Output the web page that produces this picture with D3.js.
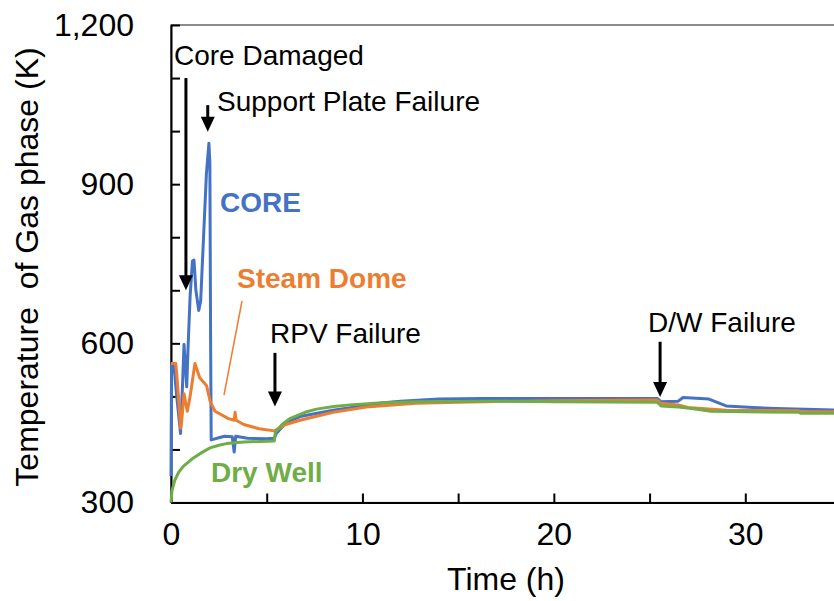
<!DOCTYPE html>
<html>
<head>
<meta charset="utf-8">
<script src="https://cdn.jsdelivr.net/npm/d3@7"></script>
<style>
  html, body { margin: 0; padding: 0; background: #fff; }
  svg { display: block; font-family: "Liberation Sans", Arial, sans-serif; }
</style>
</head>
<body>
<svg id="chart" width="834" height="601"></svg>
<script>
// Gas-phase temperature histories, [time (h), temperature (K)]
const coreSeries = [
  [0, 350], [0.03, 560], [0.15, 560], [0.3, 500], [0.5, 430], [0.6, 520], [0.68, 598],
  [0.75, 560], [0.82, 518], [0.9, 600], [1.0, 690], [1.12, 755], [1.2, 757], [1.3, 700],
  [1.45, 662], [1.55, 680], [1.7, 800], [1.85, 920], [1.98, 977], [2.03, 940], [2.07, 600],
  [2.1, 418], [2.5, 422], [2.8, 425], [3.2, 424], [3.3, 395], [3.38, 425], [4.0, 421],
  [5.0, 420], [5.4, 421], [5.5, 430], [6.0, 450], [6.74, 462], [8.47, 474], [10, 482],
  [11.1, 488], [12, 491], [14, 495], [16.3, 496], [20, 496], [25.4, 496], [25.6, 490],
  [26.5, 491], [26.75, 498], [28.1, 495], [29.0, 482], [30.4, 479], [31.6, 477], [34.8, 474]
];
const steamDomeSeries = [
  [0, 562], [0.25, 562], [0.35, 520], [0.5, 440], [0.55, 450], [0.68, 505], [0.85, 472],
  [1.0, 500], [1.25, 562], [1.5, 535], [1.86, 520], [2.05, 490], [2.3, 472], [3.0, 458],
  [3.3, 455], [3.35, 470], [3.4, 455], [3.8, 447], [4.6, 439], [5.4, 435], [5.5, 437],
  [6.0, 447], [6.74, 455], [8.47, 470], [10.2, 480], [12.8, 487], [15, 489], [20, 492],
  [25.4, 493], [25.6, 487], [26.5, 484], [27, 479], [29, 474], [32.8, 473], [32.9, 471],
  [34.8, 471]
];
const dryWellSeries = [
  [0, 300], [0.05, 322], [0.2, 342], [0.4, 357], [0.64, 368], [1.17, 384], [1.6, 394],
  [2.04, 403], [2.5, 408], [2.9, 411], [3.8, 414], [5.4, 416], [5.45, 433], [5.8, 447],
  [6.2, 458], [7.0, 470], [7.6, 476], [8.5, 481], [9.35, 484], [11, 488], [12.8, 490],
  [16.3, 491], [20, 490], [25.4, 489], [25.6, 482], [26.5, 480], [27.2, 477], [28.2, 472],
  [30, 471], [32.8, 470], [32.9, 468], [34.8, 468]
];

// Axis ticks
const yTicks = [300, 400, 500, 600, 700, 800, 900, 1000, 1100, 1200];
const yLabelled = [300, 600, 900, 1200];
const xTicks = [0, 5, 10, 15, 20, 25, 30, 35];
const xLabelled = [0, 10, 20, 30];

// Event times (h) and the temperature span of each arrow (K)
const eventNames = ["Core Damaged", "Support Plate Failure", "RPV Failure", "D/W Failure"];
const eventTimes = [0.78, 1.92, 5.43, 25.55];
const eventFrom  = [1100, 1049, 582, 603];
const eventTo    = [700, 999, 481, 499];

const colors = { core: "#4472C4", steam: "#ED7D31", dry: "#70AD47" };

const svg = d3.select("#chart");
const x = d3.scaleLinear().domain([0, 35]).range([171, 841]);
const y = d3.scaleLinear().domain([300, 1200]).range([502.5, 25]);

// Plot-area frame
svg.append("rect")
  .attr("x", x(0)).attr("y", y(1200))
  .attr("width", x(35) - x(0)).attr("height", y(300) - y(1200))
  .attr("fill", "none").attr("stroke", "#404040").attr("stroke-width", 1.2);

// Y axis (ticks point inward)
const yAxis = svg.append("g")
  .attr("transform", `translate(${x(0)},0)`)
  .call(d3.axisLeft(y)
    .tickValues(yTicks)
    .tickSizeInner(-9).tickSizeOuter(0).tickPadding(37)
    .tickFormat(d => yLabelled.includes(d) ? d3.format(",")(d) : ""));
yAxis.select(".domain").attr("stroke", "#000").attr("stroke-width", 2);
yAxis.selectAll(".tick line").attr("stroke", "#000").attr("stroke-width", 2);
yAxis.selectAll(".tick text").attr("font-size", 32).attr("fill", "#000")
  .attr("font-family", "'Liberation Sans', Arial, sans-serif");

// X axis (ticks point inward)
const xAxis = svg.append("g")
  .attr("transform", `translate(0,${y(300)})`)
  .call(d3.axisBottom(x)
    .tickValues(xTicks)
    .tickSizeInner(-9).tickSizeOuter(0).tickPadding(20)
    .tickFormat(d => xLabelled.includes(d) ? String(d) : ""));
xAxis.select(".domain").attr("stroke", "#000").attr("stroke-width", 2);
xAxis.selectAll(".tick line").attr("stroke", "#000").attr("stroke-width", 2);
xAxis.selectAll(".tick text").attr("font-size", 32).attr("fill", "#000")
  .attr("font-family", "'Liberation Sans', Arial, sans-serif");

// Axis titles
svg.append("text")
  .attr("x", 506).attr("y", 590)
  .attr("text-anchor", "middle").attr("font-size", 32).attr("fill", "#000")
  .text("Time (h)");
svg.append("text")
  .attr("transform", "translate(38,267) rotate(-90)")
  .attr("text-anchor", "middle").attr("font-size", 32).attr("fill", "#000")
  .attr("xml:space", "preserve").style("white-space", "pre")
  .text("Temperature  of Gas phase (K)");

// Temperature curves
const line = d3.line().x(d => x(d[0])).y(d => y(d[1]));
[[coreSeries, colors.core], [steamDomeSeries, colors.steam], [dryWellSeries, colors.dry]]
  .forEach(([data, c]) => {
    svg.append("path")
      .datum(data)
      .attr("d", line)
      .attr("fill", "none")
      .attr("stroke", c)
      .attr("stroke-width", 3)
      .attr("stroke-linejoin", "round");
  });

// Event arrows
eventTimes.forEach((t, i) => {
  const ax = x(t), y0 = y(eventFrom[i]), y1 = y(eventTo[i]);
  svg.append("line")
    .attr("x1", ax).attr("x2", ax).attr("y1", y0).attr("y2", y1 - 12)
    .attr("stroke", "#000").attr("stroke-width", 3);
  svg.append("path")
    .attr("d", `M${ax - 7},${y1 - 15} L${ax + 7},${y1 - 15} L${ax},${y1} Z`)
    .attr("fill", "#000");
});

// Event labels
const labelFont = 28;
const eventLabelPos = [[174, 65], [217, 111], [270, 343], [648, 332]];
eventNames.forEach((name, i) => {
  svg.append("text")
    .attr("x", eventLabelPos[i][0]).attr("y", eventLabelPos[i][1])
    .attr("font-size", labelFont).attr("fill", "#000")
    .text(name);
});

// Series labels
svg.append("text").attr("x", 220).attr("y", 212)
  .attr("font-size", labelFont).attr("font-weight", "bold").attr("fill", colors.core)
  .text("CORE");
svg.append("text").attr("x", 237).attr("y", 288)
  .attr("font-size", labelFont).attr("font-weight", "bold").attr("fill", colors.steam)
  .text("Steam Dome");
svg.append("text").attr("x", 211).attr("y", 482)
  .attr("font-size", labelFont).attr("font-weight", "bold").attr("fill", colors.dry)
  .text("Dry Well");

// Leader from the Steam Dome label to its curve
svg.append("line")
  .attr("x1", 242).attr("y1", 301).attr("x2", 224).attr("y2", 395)
  .attr("stroke", colors.steam).attr("stroke-width", 1.5);
</script>
</body>
</html>
